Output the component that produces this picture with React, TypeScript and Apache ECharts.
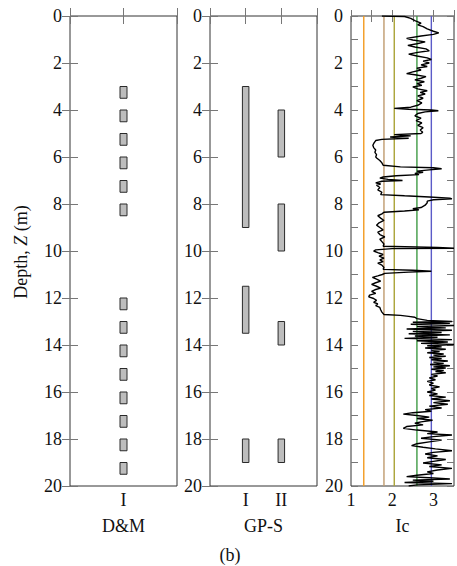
import React, { useEffect, useRef } from "react";
import * as echarts from "echarts";

// ---- Data ----
const depthTicks = [0, 2, 4, 6, 8, 10, 12, 14, 16, 18, 20];
const dmCategories = ["I"];
const gpsCategories = ["I", "II"];
const icTickLabels = ["1", "2", "3"];

// D&M intervals: [category position, top depth, bottom depth]
const dmIntervals: number[][] = [
  [1, 3, 3.5], [1, 4, 4.5], [1, 5, 5.5], [1, 6, 6.5], [1, 7, 7.5], [1, 8, 8.5],
  [1, 12, 12.5], [1, 13, 13.5], [1, 14, 14.5], [1, 15, 15.5], [1, 16, 16.5],
  [1, 17, 17.5], [1, 18, 18.5], [1, 19, 19.5],
];

// GP-S intervals: [category position, top depth, bottom depth]
const gpsIntervals: number[][] = [
  [1, 3, 9], [1, 11.5, 13.5], [1, 18, 19],
  [2, 4, 6], [2, 8, 10], [2, 13, 14], [2, 18, 19],
];

// Ic boundary lines
const icBoundaries = [1.31, 1.8, 2.05, 2.6, 2.95];
const icBoundaryColors = ["#f39a1f", "#bf9a6e", "#aaa236", "#3f9a45", "#5b5bc8"];

// Ic profile: [depth, Ic]
const icProfile: number[][] = [
  [0, 1.75], [0.02, 2.3], [0.1, 2.45], [0.2, 2.55], [0.3, 2.7], [0.38, 2.62], [0.45, 2.75],
  [0.55, 2.85], [0.65, 3.0], [0.72, 3.13], [0.78, 3.0], [0.85, 2.7], [0.95, 2.35], [1.02, 2.5],
  [1.1, 2.8], [1.18, 2.6], [1.25, 2.38], [1.32, 2.55], [1.4, 2.82], [1.48, 2.9], [1.55, 2.62],
  [1.62, 2.4], [1.7, 2.6], [1.78, 2.85], [1.85, 2.95], [1.92, 2.75], [2.0, 2.9], [2.08, 2.7],
  [2.15, 2.85], [2.22, 2.6], [2.3, 2.7], [2.38, 2.5], [2.45, 2.35], [2.5, 2.55], [2.58, 2.82],
  [2.65, 2.7], [2.72, 2.55], [2.8, 2.78], [2.88, 2.6], [2.95, 2.72], [3.02, 2.5], [3.1, 2.62],
  [3.18, 2.85], [3.25, 2.68], [3.32, 2.8], [3.4, 2.62], [3.5, 2.75], [3.6, 2.6], [3.7, 2.72],
  [3.8, 2.62], [3.88, 2.45], [3.93, 2.05], [3.97, 2.4], [4.0, 2.95], [4.03, 3.12], [4.08, 2.8],
  [4.15, 2.62], [4.25, 2.55], [4.35, 2.7], [4.45, 2.58], [4.55, 2.72], [4.65, 2.62], [4.75, 2.75],
  [4.85, 2.68], [4.95, 2.74], [5.0, 2.7], [5.05, 2.05], [5.1, 2.45], [5.15, 1.95], [5.2, 2.4],
  [5.25, 1.75], [5.3, 1.6], [5.4, 1.56], [5.5, 1.53], [5.6, 1.55], [5.7, 1.6], [5.8, 1.58],
  [5.9, 1.62], [6.0, 1.6], [6.05, 1.63], [6.15, 1.7], [6.25, 1.75], [6.35, 1.78], [6.42, 2.2],
  [6.46, 3.0], [6.5, 3.2], [6.55, 2.9], [6.6, 2.6], [6.65, 2.75], [6.7, 2.55], [6.75, 2.65],
  [6.8, 2.1], [6.85, 1.78], [6.9, 1.7], [6.95, 1.9], [7.0, 2.25], [7.03, 1.75], [7.1, 1.6],
  [7.15, 1.72], [7.2, 1.62], [7.3, 1.7], [7.4, 1.65], [7.5, 1.75], [7.6, 1.72], [7.65, 2.3],
  [7.7, 2.9], [7.75, 3.4], [7.78, 3.45], [7.82, 3.0], [7.88, 2.85], [7.95, 2.85], [8.05, 2.8],
  [8.15, 2.7], [8.2, 2.5], [8.25, 2.65], [8.3, 2.3], [8.35, 1.8], [8.42, 1.75], [8.5, 1.65],
  [8.6, 1.72], [8.7, 1.8], [8.8, 1.68], [8.9, 1.62], [9.0, 1.7], [9.1, 1.78], [9.2, 1.65],
  [9.3, 1.7], [9.4, 1.82], [9.5, 1.7], [9.6, 1.75], [9.7, 1.8], [9.8, 1.78], [9.85, 3.1],
  [9.88, 3.5], [9.9, 2.0], [9.95, 1.6], [10.0, 1.55], [10.07, 1.65], [10.15, 1.78], [10.22, 1.68],
  [10.3, 1.8], [10.38, 1.7], [10.45, 1.78], [10.52, 1.65], [10.6, 1.75], [10.7, 1.8], [10.78, 1.78],
  [10.82, 2.5], [10.86, 2.95], [10.9, 2.4], [10.95, 1.82], [11.0, 1.76], [11.06, 1.65], [11.12, 1.52],
  [11.2, 1.62], [11.28, 1.72], [11.35, 1.6], [11.42, 1.5], [11.5, 1.62], [11.58, 1.72], [11.65, 1.58],
  [11.72, 1.5], [11.8, 1.6], [11.88, 1.45], [11.95, 1.43], [12.02, 1.55], [12.1, 1.62], [12.18, 1.55],
  [12.25, 1.65], [12.32, 1.6], [12.4, 1.7], [12.5, 1.72], [12.6, 1.75], [12.7, 1.8], [12.74, 2.2],
  [12.78, 2.4], [12.82, 2.55], [12.88, 2.6], [12.95, 2.85], [13.0, 3.45], [13.03, 2.5], [13.08, 3.4],
  [13.12, 2.45], [13.17, 3.5], [13.22, 2.6], [13.27, 3.3], [13.32, 2.35], [13.37, 3.45], [13.42, 2.5],
  [13.47, 3.2], [13.52, 2.4], [13.57, 3.4], [13.62, 2.55], [13.67, 3.1], [13.72, 2.3], [13.77, 3.45],
  [13.82, 2.6], [13.87, 3.35], [13.93, 2.7], [13.98, 3.5], [14.03, 2.85], [14.08, 3.2], [14.13, 2.8],
  [14.18, 3.3], [14.23, 2.95], [14.28, 3.15], [14.33, 2.85], [14.38, 3.25], [14.43, 3.0], [14.48, 3.3],
  [14.53, 2.9], [14.58, 3.2], [14.63, 2.95], [14.68, 3.35], [14.73, 3.0], [14.78, 3.25], [14.83, 2.92],
  [14.88, 3.4], [14.93, 3.0], [14.98, 3.3], [15.03, 2.95], [15.08, 3.25], [15.13, 3.05], [15.18, 3.3],
  [15.25, 2.95], [15.32, 3.1], [15.4, 2.9], [15.48, 3.05], [15.55, 2.85], [15.62, 3.0], [15.7, 2.9],
  [15.78, 3.15], [15.85, 2.95], [15.92, 3.05], [16.0, 2.85], [16.08, 3.1], [16.15, 2.9], [16.22, 3.3],
  [16.3, 2.95], [16.37, 3.4], [16.45, 3.0], [16.52, 3.35], [16.6, 2.9], [16.68, 3.2], [16.75, 2.8],
  [16.82, 2.95], [16.88, 2.5], [16.94, 2.27], [17.0, 2.6], [17.07, 2.9], [17.13, 2.6], [17.2, 2.98],
  [17.27, 2.7], [17.33, 2.55], [17.4, 2.75], [17.47, 2.35], [17.55, 2.27], [17.62, 2.6], [17.7, 3.1],
  [17.77, 2.85], [17.83, 3.45], [17.9, 3.0], [17.97, 2.7], [18.05, 3.2], [18.12, 2.9], [18.2, 2.6],
  [18.28, 2.47], [18.35, 2.75], [18.42, 3.05], [18.5, 3.45], [18.57, 3.0], [18.64, 2.8], [18.72, 3.1],
  [18.8, 2.85], [18.87, 3.3], [18.95, 3.0], [19.02, 2.75], [19.1, 3.2], [19.17, 2.9], [19.25, 3.45],
  [19.32, 3.1], [19.4, 2.85], [19.47, 3.0], [19.54, 2.6], [19.6, 2.35], [19.65, 2.9], [19.7, 3.4],
  [19.75, 2.5], [19.8, 3.0], [19.85, 2.3], [19.9, 3.45], [19.95, 2.6], [20.0, 2.4],
];

const FONT = "Liberation Serif";
const FS = 18;
const TICK_COLOR = "#777";
const BORDER = "#333";

export default function App() {
  const ref = useRef<HTMLDivElement>(null);

  useEffect(() => {
    if (!ref.current) return;
    const chart = echarts.init(ref.current, undefined, { renderer: "svg" });

    const grids = [
      { left: 70, top: 16, width: 107, height: 470 },
      { left: 210, top: 16, width: 107, height: 470 },
      { left: 351, top: 16, width: 107, height: 470 },
    ].map((g) => ({ ...g, show: true, borderColor: BORDER, borderWidth: 1, backgroundColor: "transparent" }));

    const labelStyle = { fontFamily: FONT, fontSize: FS, color: "#111" };

    const yAx = (gridIndex: number, right: boolean, interval: number, tickLen: number) => ({
      type: "value",
      gridIndex,
      position: right ? "right" : "left",
      inverse: true,
      min: 0,
      max: 20,
      interval,
      axisLine: { show: false },
      splitLine: { show: false },
      axisTick: { show: true, inside: true, length: tickLen, lineStyle: { color: TICK_COLOR, width: 1 } },
      axisLabel: right
        ? { show: false }
        : {
            show: true,
            margin: 8,
            ...labelStyle,
            formatter: (v: number) => (depthTicks.includes(v) ? String(v) : ""),
          },
    });

    const catLabel = (cats: string[]) => (v: number) => {
      const i = Math.round(v) - 1;
      return Math.abs(v - Math.round(v)) < 1e-6 && i >= 0 && i < cats.length ? cats[i] : "";
    };

    const xAx = (
      gridIndex: number,
      top: boolean,
      min: number,
      max: number,
      interval: number,
      formatter: (v: number) => string,
      name: string,
      tickLen: number
    ) => ({
      type: "value",
      gridIndex,
      position: top ? "top" : "bottom",
      min,
      max,
      interval,
      axisLine: { show: false },
      splitLine: { show: false },
      axisTick: { show: true, inside: true, length: tickLen, lineStyle: { color: TICK_COLOR, width: 1 } },
      axisLabel: top ? { show: false } : { show: true, margin: 5, ...labelStyle, formatter },
      name: top ? "" : name,
      nameLocation: "middle",
      nameGap: 31,
      nameTextStyle: { ...labelStyle },
    });

    const icFmt = (v: number) => (icTickLabels.includes(String(v)) ? String(v) : "");

    const xAxis = [
      xAx(0, false, 0, 2, 1, catLabel(dmCategories), "D&M", 8),
      xAx(0, true, 0, 2, 1, catLabel(dmCategories), "", 8),
      xAx(1, false, 0, 3, 1, catLabel(gpsCategories), "GP-S", 8),
      xAx(1, true, 0, 3, 1, catLabel(gpsCategories), "", 8),
      xAx(2, false, 1, 3.5, 0.5, icFmt, "Ic", 6),
      xAx(2, true, 1, 3.5, 0.5, icFmt, "", 6),
    ];

    const yAxis = [
      yAx(0, false, 2, 8),
      yAx(0, true, 2, 8),
      yAx(1, false, 2, 8),
      yAx(1, true, 2, 8),
      yAx(2, false, 1, 7),
      yAx(2, true, 1, 7),
    ];

    const barRender = (w: number) => (params: any, api: any) => {
      const x = api.value(0);
      const s = api.value(1);
      const e = api.value(2);
      const p1 = api.coord([x, s]);
      const p2 = api.coord([x, e]);
      return {
        type: "rect",
        shape: { x: p1[0] - w / 2, y: p1[1], width: w, height: p2[1] - p1[1] },
        style: { fill: "#bdbdbd", stroke: "#2a2a2a", lineWidth: 1 },
      };
    };

    const series: any[] = [
      {
        type: "custom",
        xAxisIndex: 0,
        yAxisIndex: 0,
        renderItem: barRender(7),
        encode: { x: 0, y: [1, 2] },
        data: dmIntervals,
      },
      {
        type: "custom",
        xAxisIndex: 2,
        yAxisIndex: 2,
        renderItem: barRender(6.5),
        encode: { x: 0, y: [1, 2] },
        data: gpsIntervals,
      },
      ...icBoundaries.map((b, i) => ({
        type: "line",
        xAxisIndex: 4,
        yAxisIndex: 4,
        data: [
          [b, 0],
          [b, 20],
        ],
        showSymbol: false,
        symbol: "none",
        lineStyle: { color: icBoundaryColors[i], width: 1.4 },
        silent: true,
      })),
      {
        type: "line",
        xAxisIndex: 4,
        yAxisIndex: 4,
        data: icProfile.map((p) => [p[1], p[0]]),
        showSymbol: false,
        symbol: "none",
        clip: true,
        lineStyle: { color: "#000", width: 1.4 },
        z: 5,
      },
    ];

    chart.setOption({
      animation: false,
      backgroundColor: "#fff",
      grid: grids,
      xAxis,
      yAxis,
      series,
      graphic: [
        {
          type: "text",
          x: 21,
          y: 252,
          rotation: Math.PI / 2,
          style: {
            text: "{a|Depth, }{b|Z}{a| (m)}",
            align: "center",
            verticalAlign: "middle",
            fill: "#111",
            font: `${FS}px "${FONT}"`,
            rich: {
              a: { fontFamily: FONT, fontSize: FS, fill: "#111" },
              b: { fontFamily: FONT, fontSize: FS, fontStyle: "italic", fill: "#111" },
            },
          },
        },
        {
          type: "text",
          x: 230,
          y: 555,
          style: {
            text: "(b)",
            align: "center",
            verticalAlign: "middle",
            fill: "#111",
            font: `${FS}px "${FONT}"`,
          },
        },
      ],
    });

    return () => chart.dispose();
  }, []);

  return (
    <div
      ref={ref}
      style={{ position: "absolute", left: 0, top: 0, width: 457, height: 566 }}
    />
  );
}
